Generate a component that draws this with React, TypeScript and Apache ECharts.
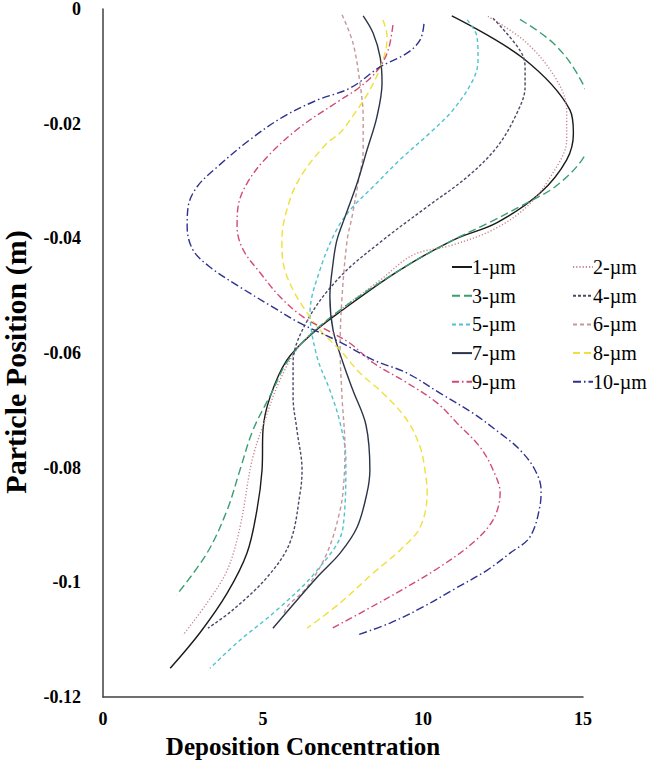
import React, { useEffect, useRef } from "react";
import * as echarts from "echarts";

// [deposition concentration, particle position (m)]
const um1 = [[10.9,-0.0012],[13.13,-0.0086],[14.59,-0.0176],[14.7,-0.0217],[14.49,-0.0263],[13.66,-0.0321],[12.3,-0.0373],[10.94,-0.0403],[9.2,-0.0458],[7.41,-0.0528],[6.56,-0.0565],[5.75,-0.0612],[5.22,-0.0677],[5.0,-0.0734],[4.97,-0.0804],[4.81,-0.0874],[4.5,-0.0949],[3.88,-0.1019],[3.03,-0.1088],[2.1,-0.115]];
const um2 = [[12.03,-0.0013],[13.24,-0.0059],[14.18,-0.0124],[14.49,-0.0176],[14.49,-0.0228],[14.06,-0.0286],[13.24,-0.0345],[12.19,-0.0385],[10.9,-0.0412],[9.69,-0.0429],[8.66,-0.0473],[7.09,-0.0539],[6.16,-0.0586],[5.53,-0.0647],[5.06,-0.0717],[4.66,-0.0787],[4.28,-0.0904],[3.88,-0.0979],[3.25,-0.1036],[2.5,-0.1092]];
const um3 = [[13.03,-0.0018],[14.06,-0.0059],[14.81,-0.0112],[15.28,-0.0176],[15.31,-0.0216],[14.97,-0.0263],[14.13,-0.031],[13.25,-0.0338],[12.09,-0.0372],[10.94,-0.0403],[9.28,-0.0455],[7.41,-0.0525],[6.31,-0.0577],[5.69,-0.0621],[5.31,-0.0665],[4.69,-0.0734],[4.28,-0.0804],[3.88,-0.0874],[3.25,-0.0949],[2.3,-0.1022]];
const um4 = [[12.19,-0.0016],[13.03,-0.0072],[13.19,-0.0101],[13.19,-0.0136],[12.94,-0.0181],[12.31,-0.0241],[11.38,-0.0293],[10.13,-0.0345],[8.75,-0.0403],[7.41,-0.0467],[6.41,-0.0541],[5.94,-0.0617],[5.94,-0.0677],[6.06,-0.0734],[6.22,-0.0804],[6.16,-0.0844],[5.84,-0.0931],[5.13,-0.0991],[4.06,-0.1048],[3.28,-0.108]];
const um5 = [[11.38,-0.0019],[11.69,-0.0049],[11.72,-0.0089],[11.56,-0.0124],[10.94,-0.0176],[10.22,-0.0216],[9.28,-0.0263],[8.44,-0.031],[7.81,-0.0345],[7.3,-0.0385],[6.78,-0.0455],[6.47,-0.053],[6.69,-0.0607],[7.09,-0.0665],[7.41,-0.0722],[7.59,-0.0787],[7.5,-0.0904],[6.69,-0.0979],[5.44,-0.1048],[4.28,-0.1101],[3.34,-0.115]];
const um6 = [[7.47,-0.001],[7.81,-0.0059],[8.03,-0.0129],[8.13,-0.0188],[8.13,-0.0246],[7.97,-0.0304],[7.78,-0.0363],[7.63,-0.0403],[7.47,-0.0502],[7.41,-0.059],[7.47,-0.0677],[7.56,-0.0764],[7.53,-0.0822],[7.41,-0.0874],[7.0,-0.0949],[6.38,-0.1008],[5.75,-0.1043],[5.63,-0.106]];
const um7 = [[8.13,-0.0012],[8.44,-0.0042],[8.66,-0.0084],[8.72,-0.0129],[8.56,-0.0188],[8.25,-0.0246],[7.94,-0.0304],[7.56,-0.0363],[7.31,-0.0403],[7.19,-0.0443],[7.09,-0.0502],[7.19,-0.056],[7.5,-0.0617],[7.81,-0.0665],[8.22,-0.0726],[8.34,-0.0804],[8.25,-0.0844],[7.94,-0.0904],[7.41,-0.0949],[6.69,-0.0991],[5.31,-0.108]];
const um8 = [[8.75,-0.0019],[8.88,-0.0049],[8.72,-0.0094],[8.34,-0.0141],[7.94,-0.0176],[7.41,-0.0216],[7.0,-0.0234],[6.25,-0.0286],[5.84,-0.0333],[5.59,-0.0403],[5.63,-0.0443],[5.94,-0.049],[6.38,-0.053],[6.78,-0.056],[7.41,-0.0595],[8.03,-0.0635],[8.75,-0.067],[9.5,-0.0717],[9.91,-0.0764],[10.06,-0.0804],[10.13,-0.0844],[9.91,-0.0904],[9.28,-0.0944],[8.44,-0.0984],[7.41,-0.1036],[6.38,-0.108]];
const um9 = [[9.06,-0.0028],[8.91,-0.0072],[8.59,-0.0106],[8.03,-0.0136],[7.41,-0.0159],[6.16,-0.0206],[5.13,-0.0258],[4.5,-0.0304],[4.22,-0.0345],[4.19,-0.038],[4.38,-0.042],[4.91,-0.046],[5.53,-0.0502],[6.25,-0.0537],[7.0,-0.056],[7.72,-0.0583],[8.44,-0.0617],[9.5,-0.0652],[10.44,-0.0687],[11.06,-0.0722],[11.78,-0.0764],[12.19,-0.0804],[12.41,-0.0844],[12.19,-0.0891],[11.56,-0.0931],[10.53,-0.0973],[9.5,-0.1008],[8.03,-0.1054],[7.16,-0.108]];
const um10 = [[10.03,-0.0026],[9.91,-0.0054],[9.5,-0.0077],[8.66,-0.0101],[7.72,-0.0138],[6.69,-0.0159],[5.63,-0.0188],[4.59,-0.0228],[3.56,-0.0276],[2.94,-0.031],[2.66,-0.0345],[2.63,-0.038],[2.81,-0.042],[3.34,-0.045],[4.28,-0.0485],[5.31,-0.052],[6.16,-0.0548],[7.41,-0.0581],[8.44,-0.0612],[9.5,-0.0635],[10.53,-0.067],[11.56,-0.0705],[12.41,-0.074],[13.03,-0.0769],[13.5,-0.0804],[13.69,-0.0839],[13.66,-0.0865],[13.34,-0.0921],[12.72,-0.0949],[12.0,-0.0979],[10.94,-0.1013],[10.0,-0.1043],[8.97,-0.1071],[7.94,-0.1092]];

const names = ["1-µm","2-µm","3-µm","4-µm","5-µm","6-µm","7-µm","8-µm","9-µm","10-µm"];
const seriesData = [um1, um2, um3, um4, um5, um6, um7, um8, um9, um10];
const colors = ["#1a1a1a","#c98590","#3a9e72","#4e4866","#4fc3cf","#c4979c","#2b3448","#efe03a","#d24a74","#2f3190"];
const dashes: any[] = ["solid",[1.2,2],[8,4],[3,2],[4,3],[4,3],"solid",[7,4],[7,3,1.5,3],[8,3,1.5,3]];

const yTicks = [0,-0.02,-0.04,-0.06,-0.08,-0.1,-0.12];
const xTicks = [0,5,10,15];

const FONT = "'Liberation Serif', 'Times New Roman', serif";

export default function App() {
  const ref = useRef<HTMLDivElement>(null);
  useEffect(() => {
    if (!ref.current) return;
    const chart = echarts.init(ref.current, undefined, { renderer: "svg" });
    const series = names.map((n, i) => ({
      name: n,
      type: "line",
      data: seriesData[i],
      smooth: 0.35,
      symbol: "none",
      showSymbol: false,
      clip: false,
      lineStyle: { color: colors[i], width: 1.4, type: dashes[i] },
      itemStyle: { color: colors[i] },
    }));
    const legendBase = {
      orient: "vertical",
      itemWidth: 20,
      itemHeight: 10,
      itemGap: 8.7,
      padding: 0,
      itemStyle: { opacity: 0 },
      textStyle: { fontFamily: FONT, fontSize: 20, color: "#000", lineHeight: 20, padding: [0, 0, 0, -5] },
    };
    chart.setOption({
      animation: false,
      backgroundColor: "#fff",
      grid: { left: 103, right: 80, top: 9, bottom: 81, outerBoundsMode: "none", containLabel: false },
      legend: [
        { ...legendBase, left: 451, top: 257, data: names.filter((_, i) => i % 2 === 0) },
        { ...legendBase, left: 572, top: 257, data: names.filter((_, i) => i % 2 === 1) },
      ],
      xAxis: {
        type: "value",
        min: xTicks[0],
        max: xTicks[xTicks.length - 1],
        interval: 5,
        axisLine: { show: true, onZero: false, lineStyle: { color: "#404040", width: 1.5 } },
        axisTick: { show: false },
        splitLine: { show: false },
        axisLabel: { fontFamily: FONT, fontWeight: "bold", fontSize: 18, color: "#000", margin: 13 },
        name: "Deposition Concentration",
        nameLocation: "middle",
        nameGap: 37,
        nameTextStyle: { fontFamily: FONT, fontWeight: "bold", fontSize: 25, color: "#000", padding: [0, 80, 0, 0] },
      },
      yAxis: {
        type: "value",
        min: yTicks[yTicks.length - 1],
        max: yTicks[0],
        interval: 0.02,
        axisLine: { show: true, lineStyle: { color: "#404040", width: 1.5 } },
        axisTick: { show: false },
        splitLine: { show: false },
        axisLabel: {
          fontFamily: FONT, fontWeight: "bold", fontSize: 18, color: "#000", margin: 22,
          formatter: (v: number) => String(parseFloat(v.toFixed(2))),
        },
        name: "Particle Position (m)",
        nameLocation: "middle",
        nameGap: 73,
        nameTextStyle: { fontFamily: FONT, fontWeight: "bold", fontSize: 30, color: "#000", padding: [0, 18, 0, 0] },
      },
      series,
    });
    return () => chart.dispose();
  }, []);
  return <div ref={ref} style={{ position: "fixed", left: 0, top: 0, width: 663, height: 778 }} />;
}
